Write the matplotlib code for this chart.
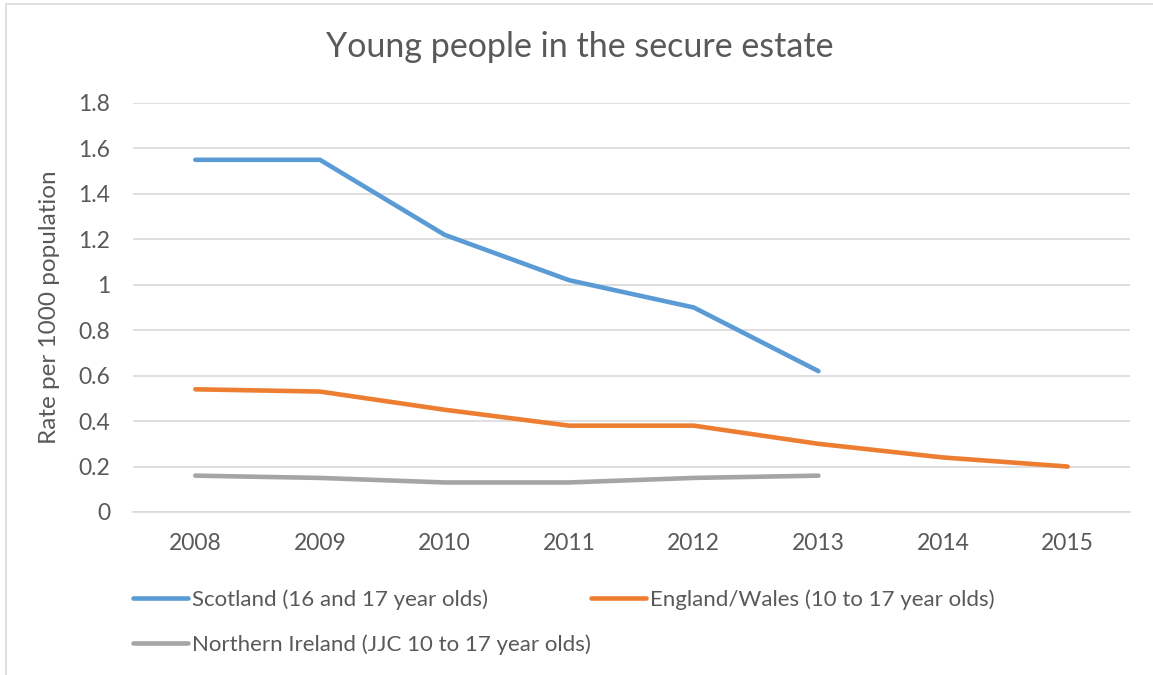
import matplotlib
matplotlib.use("Agg")
import matplotlib.pyplot as plt
from matplotlib.patches import Rectangle

years = ["2008", "2009", "2010", "2011", "2012", "2013", "2014", "2015"]
scotland = [1.55, 1.55, 1.22, 1.02, 0.90, 0.62]
england = [0.54, 0.53, 0.45, 0.38, 0.38, 0.30, 0.24, 0.20]
n_ireland = [0.16, 0.15, 0.13, 0.13, 0.15, 0.16]
labels = ["Scotland (16 and 17 year olds)",
          "England/Wales (10 to 17 year olds)",
          "Northern Ireland (JJC 10 to 17 year olds)"]
yticks = [0, 0.2, 0.4, 0.6, 0.8, 1, 1.2, 1.4, 1.6, 1.8]
ytick_labels = ["0", "0.2", "0.4", "0.6", "0.8", "1", "1.2", "1.4", "1.6", "1.8"]

plt.rcParams['font.family'] = ['Lato', 'DejaVu Sans']
txt = "#595959"

fig = plt.figure(figsize=(11.53, 6.75), dpi=100)
fig.patches.append(Rectangle((6/1153, -0.1), 1.2, 1 - 4/675 + 0.1, transform=fig.transFigure,
                             fill=False, edgecolor="#D9D9D9", linewidth=1.2))
ax = fig.add_axes([133/1153, 1 - 512/675, (1130-133)/1153, (512-103)/675])

x = list(range(len(years)))
l1, = ax.plot(x[:len(scotland)], scotland, color="#5B9BD5", lw=3.3, solid_capstyle="round", label=labels[0])
l2, = ax.plot(x[:len(england)], england, color="#ED7D31", lw=3.3, solid_capstyle="round", label=labels[1])
l3, = ax.plot(x[:len(n_ireland)], n_ireland, color="#A5A5A5", lw=3.3, solid_capstyle="round", label=labels[2])

ax.set_xlim(-0.5, len(years) - 0.5)
ax.set_ylim(0, 1.8)
ax.set_xticks(x)
ax.set_xticklabels(years)
ax.set_yticks(yticks)
ax.set_yticklabels(ytick_labels)
ax.tick_params(axis="both", length=0, labelsize=16.5, colors=txt)
ax.tick_params(axis="y", pad=16.5)
ax.tick_params(axis="x", pad=15)
ax.grid(axis="y", color="#D9D9D9", lw=1.2)
ax.set_axisbelow(True)
for s in ["top", "right", "left"]:
    ax.spines[s].set_visible(False)
ax.spines["bottom"].set_color("#D9D9D9")
ax.spines["bottom"].set_linewidth(1.2)

ax.set_ylabel("Rate per 1000 population", fontsize=17.5, color=txt)
ax.yaxis.set_label_coords((60 - 133) / (1130 - 133), 0.5)
fig.text(580 / 1153, 1 - 47/675, "Young people in the secure estate",
         ha="center", va="center", fontsize=24.5, color=txt)

leg = fig.legend([l1, l3, l2], [labels[0], labels[2], labels[1]], ncol=2,
                 loc="upper left", bbox_to_anchor=(133/1153, 1 - 589/675),
                 borderaxespad=0, borderpad=0,
                 frameon=False, fontsize=16, handlelength=2.48, handletextpad=0.18,
                 columnspacing=0.0, labelspacing=1.1, labelcolor=txt)

fig.savefig("out.png", dpi=100)
